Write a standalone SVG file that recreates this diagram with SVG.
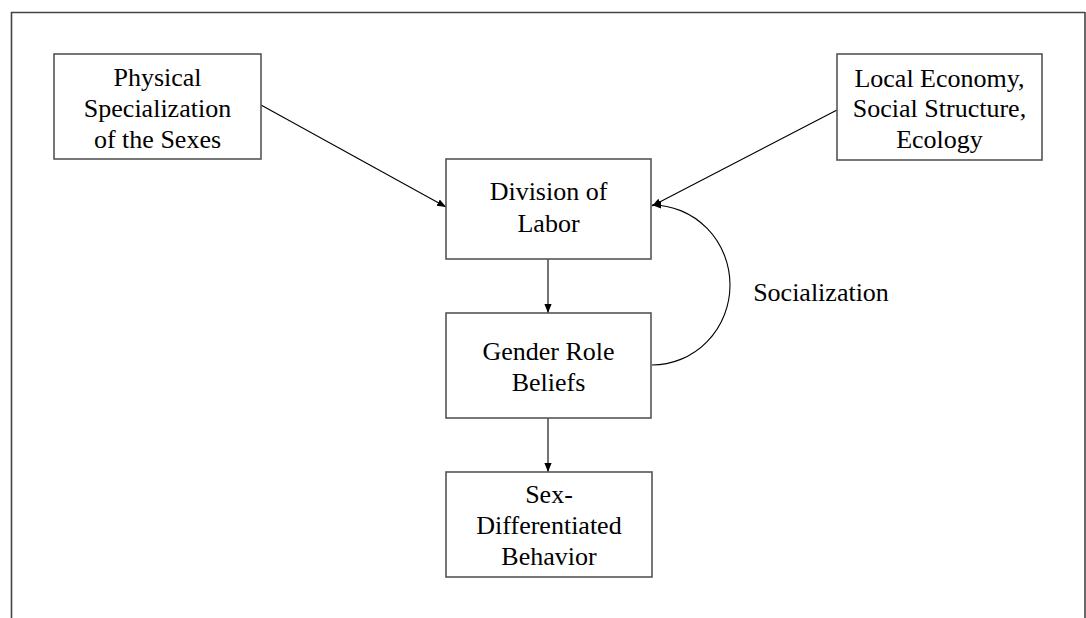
<svg xmlns="http://www.w3.org/2000/svg" width="1086" height="618" viewBox="0 0 1086 618">
  <style>
    .box { fill: #ffffff; stroke: #555555; stroke-width: 1.6; }
    .frame { fill: none; stroke: #444444; stroke-width: 1.6; }
    .label { font-family: "Liberation Serif", "Times New Roman", serif; font-size: 26px; fill: #000000; text-anchor: middle; }
    .edge { fill: none; stroke: #000000; stroke-width: 1.1; marker-end: url(#arrow); }
  </style>
  <defs>
    <marker id="arrow" viewBox="0 0 10 10" refX="10" refY="5" markerWidth="9" markerHeight="9" markerUnits="userSpaceOnUse" orient="auto">
      <path d="M0,1 L10,5 L0,9 z" fill="#000000"/>
    </marker>
  </defs>
  <rect width="1086" height="618" fill="#ffffff"/>
  <!-- page frame -->
  <path class="frame" d="M11.5,618 V12.5 H1085"/>
  <path class="frame" d="M1085,12 V618"/>

  <g id="connectors">
    <line class="edge" x1="261" y1="105" x2="446" y2="207"/>
    <line class="edge" x1="837" y1="110" x2="652" y2="206"/>
    <line class="edge" x1="548" y1="259" x2="548" y2="313"/>
    <line class="edge" x1="548" y1="418" x2="548" y2="472"/>
    <path class="edge" d="M652,365 A78,80 0 0 0 652,205"/>
    <text class="label" x="821" y="301">Socialization</text>
  </g>

  <g id="physical">
    <rect class="box" x="54" y="54" width="207" height="105"/>
    <text class="label" x="157.5" y="86">Physical</text>
    <text class="label" x="157.5" y="117">Specialization</text>
    <text class="label" x="157.5" y="148">of the Sexes</text>
  </g>

  <g id="local">
    <rect class="box" x="837" y="54" width="205" height="106"/>
    <text class="label" x="939.5" y="87">Local Economy,</text>
    <text class="label" x="939.5" y="117">Social Structure,</text>
    <text class="label" x="939.5" y="148">Ecology</text>
  </g>

  <g id="division">
    <rect class="box" x="446" y="159" width="205" height="100"/>
    <text class="label" x="548.5" y="200">Division of</text>
    <text class="label" x="548.5" y="232">Labor</text>
  </g>

  <g id="gender">
    <rect class="box" x="446" y="313" width="205" height="105"/>
    <text class="label" x="548.5" y="360">Gender Role</text>
    <text class="label" x="548.5" y="391">Beliefs</text>
  </g>

  <g id="behavior">
    <rect class="box" x="446" y="472" width="206" height="105"/>
    <text class="label" x="549" y="503">Sex-</text>
    <text class="label" x="549" y="534">Differentiated</text>
    <text class="label" x="549" y="565">Behavior</text>
  </g>
</svg>
